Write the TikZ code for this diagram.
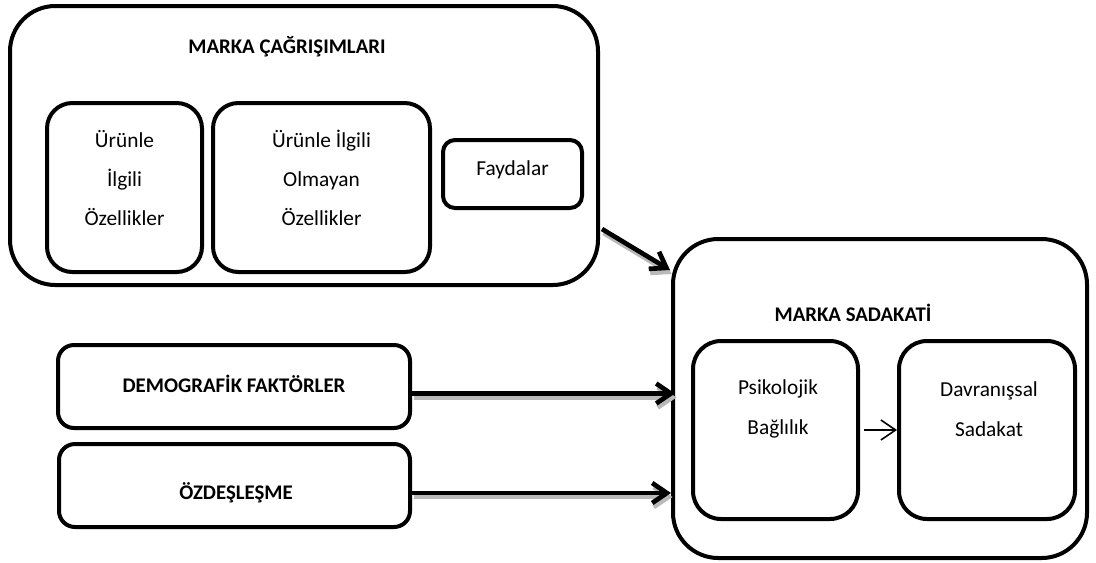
\documentclass[tikz,border=0pt]{standalone}
\usepackage{fontspec}
\setmainfont{Carlito}
\usetikzlibrary{arrows.meta,calc,positioning}

\begin{document}
\begin{tikzpicture}[x=0.75pt,y=-0.75pt]
\tikzset{bx/.style={draw,line width=3pt,inner sep=0pt},
  lbl/.style={font=\fontsize{16}{29.5}\selectfont,align=center},
  ttl/.style={font=\fontsize{15.6}{18}\selectfont\bfseries},
  bigar/.style={line width=3.5pt,-{Straight Barb[length=11pt,width=15pt]}},
  shd/.style={bigar,draw=gray!55,transform canvas={shift={(1.5,4)}}}}
\useasboundingbox (0,0) rectangle (1096,562);
% marka cagrisimlari
\node[bx,rounded corners=34pt,minimum width=588*0.75pt,minimum height=279*0.75pt] (assoc) at (304,145.5) {};
\node[ttl] (assocT) at (287,47) {MARKA ÇAĞRIŞIMLARI};
\node[bx,rounded corners=19pt,minimum width=155*0.75pt,minimum height=169*0.75pt] (urun1) at (124.5,187.5) {};
\node[bx,rounded corners=19pt,minimum width=217*0.75pt,minimum height=169*0.75pt] (urun2) at (321.5,187.5) {};
\node[bx,rounded corners=9pt,minimum width=139*0.75pt,minimum height=68*0.75pt] (fayda) at (512.5,174) {};
\node[lbl] (urun1T) at (124.5,178) {Ürünle\\İlgili\\Özellikler};
\node[lbl] (urun2T) at (321.5,178) {Ürünle İlgili\\Olmayan\\Özellikler};
\node[lbl] (faydaT) at (512.5,170) {Faydalar};
% marka sadakati
\node[bx,rounded corners=34pt,minimum width=414*0.75pt,minimum height=319*0.75pt] (sadakat) at (880,398.5) {};
\node[ttl] (sadakatT) at (853,313) {MARKA SADAKATİ};
\node[bx,rounded corners=21pt,minimum width=165*0.75pt,minimum height=178*0.75pt] (psiko) at (775.5,430) {};
\node[bx,rounded corners=21pt,minimum width=176*0.75pt,minimum height=178*0.75pt] (davran) at (987,430) {};
\node[lbl] (psikoT) at (778,409) {Psikolojik\\Bağlılık};
\node[lbl] (davranT) at (989,409) {Davranışsal\\Sadakat};
% faktorler
\node[bx,rounded corners=12pt,minimum width=352*0.75pt,minimum height=83*0.75pt] (demo) at (234,386.5) {};
\node[bx,rounded corners=12pt,minimum width=351*0.75pt,minimum height=83*0.75pt] (ozdes) at (234.5,485.5) {};
\node[ttl] (demoT) at (234,384) {DEMOGRAFİK FAKTÖRLER};
\node[ttl] (ozdesT) at (236,493) {ÖZDEŞLEŞME};
% oklar
\coordinate (a1) at ($(assoc.south east)+(2,-58)$); \coordinate (a2) at ($(sadakat.north west)+(-1,33)$);
\coordinate (b1) at ($(demo.east)+(0,7)$); \coordinate (b2) at ($(b1-|sadakat.west)+(4,0)$);
\coordinate (c1) at ($(ozdes.east)+(0,7.5)$); \coordinate (c2) at (c1-|sadakat.west);
\draw[shd](a1)--(a2); \draw[bigar](a1)--(a2);
\draw[shd](b1)--(b2); \draw[bigar](b1)--(b2);
\draw[shd](c1)--(c2); \draw[bigar](c1)--(c2);
\draw[line width=1.2pt,-{Straight Barb[length=11pt,width=15pt]},shorten <=3pt](psiko.east)--(davran.west);
\end{tikzpicture}
\end{document}
